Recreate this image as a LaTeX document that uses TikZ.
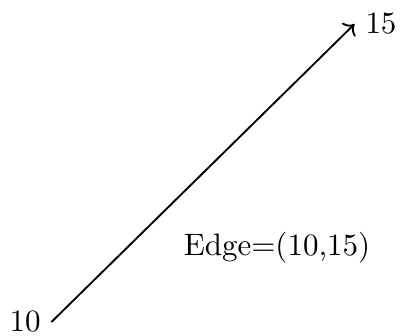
\documentclass[tikz,border=0pt]{standalone}
\usetikzlibrary{arrows.meta}
\begin{document}
\begin{tikzpicture}[x=0.3226pt,y=-0.3226pt,
  lbl/.style={inner sep=3.33pt},
  edgeline/.style={->,line width=0.6pt}]
\useasboundingbox (0,0) rectangle (400,335);
\node[lbl] (a) at (25,322) {10};
\node[lbl] (b) at (381,24) {15};
\draw[edgeline] (a.east) -- (b.west);
\node[lbl] (e) at (277,248) {Edge=(10,15)};
\end{tikzpicture}
\end{document}
